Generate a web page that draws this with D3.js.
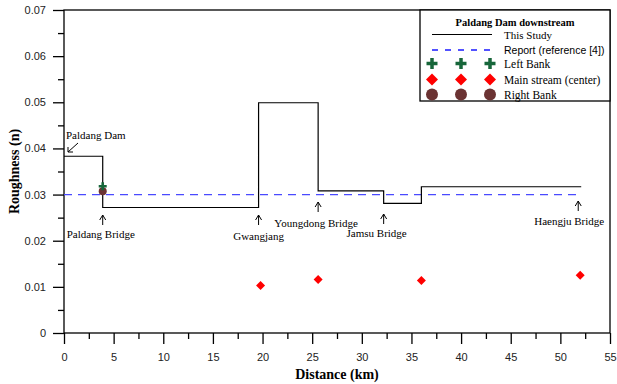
<!DOCTYPE html>
<html><head><meta charset="utf-8">
<script src="https://cdn.jsdelivr.net/npm/d3@7/dist/d3.min.js"></script>
<style>body{margin:0;background:#fff}svg{display:block}</style>
</head><body>
<svg id="c" width="617" height="384"></svg>
<script>
// ---- data ----
const stepX = [0, 3.9, 19.6, 25.6, 32.2, 36.0, 52.1];      // segment boundaries (km)
const stepN = [0.0383, 0.0272, 0.0499, 0.0308, 0.0281, 0.0317]; // This Study roughness per segment
const reportX = [0, 52.1];
const reportN = [0.030, 0.030];
const mainX = [19.8, 25.6, 36.0, 52.0];
const mainN = [0.0103, 0.0116, 0.0114, 0.0125];
const leftX = [3.9];
const leftN = [0.0318];
const rightX = [3.9];
const rightN = [0.0307];
const xTicks = [0,5,10,15,20,25,30,35,40,45,50,55];
const yTicks = [0,0.01,0.02,0.03,0.04,0.05,0.06,0.07];
const annots = [
  {name:"Paldang Bridge", x:3.9},
  {name:"Gwangjang", x:19.6},
  {name:"Youngdong Bridge", x:25.6},
  {name:"Jamsu Bridge", x:32.2},
  {name:"Haengju Bridge", x:51.8}
];

const svg = d3.select("#c");
const L=64, R=610, T=10, B=333;
const x = d3.scaleLinear().domain([0,55]).range([L,R]);
const y = d3.scaleLinear().domain([0,0.07]).range([B,T]);
const serif = "'Liberation Serif','Times New Roman',serif";
const sans = "'Liberation Sans',Arial,sans-serif";

// axes
const xa = svg.append("g").attr("transform",`translate(0,${B})`)
  .call(d3.axisBottom(x).tickValues(xTicks).tickSize(11).tickPadding(9).tickFormat(d3.format("d")));
const xm = svg.append("g").attr("transform",`translate(0,${B})`)
  .call(d3.axisBottom(x).tickValues(xTicks.slice(0,-1).map(d=>d+2.5)).tickSize(6).tickFormat(""));
const ya = svg.append("g").attr("transform",`translate(${L},0)`)
  .call(d3.axisLeft(y).tickValues(yTicks).tickSize(11).tickPadding(7).tickFormat(d=>d===0?"0":d3.format(".2f")(d)));
const ym = svg.append("g").attr("transform",`translate(${L},0)`)
  .call(d3.axisLeft(y).tickValues(yTicks.slice(0,-1).map(d=>d+0.005)).tickSize(6).tickFormat(""));
[xa,xm,ya,ym].forEach(g=>{
  g.select(".domain").remove();
  g.selectAll("line").attr("stroke","#000").attr("stroke-width",1.3);
  g.selectAll("text").attr("font-family",sans).attr("font-size",11).attr("fill","#222");
});
// frame
svg.append("rect").attr("x",L).attr("y",T).attr("width",R-L).attr("height",B-T)
  .attr("fill","none").attr("stroke","#000").attr("stroke-width",1.3);

// axis titles
svg.append("text").attr("x",(L+R)/2).attr("y",379).attr("text-anchor","middle")
  .attr("font-family",serif).attr("font-weight","bold").attr("font-size",14).text("Distance (km)");
svg.append("text").attr("transform",`translate(19,${(T+B)/2}) rotate(-90)`).attr("text-anchor","middle")
  .attr("font-family",serif).attr("font-weight","bold").attr("font-size",14).text("Roughness (n)");

// report dashed line
svg.append("path").attr("d",d3.line().x((d,i)=>x(reportX[i])).y(d=>y(d))(reportN))
  .attr("fill","none").attr("stroke","#4a4aff").attr("stroke-width",1.3).attr("stroke-dasharray","8,6");

// step line
const stepPts=[];
stepN.forEach((v,i)=>{stepPts.push([stepX[i],v]);stepPts.push([stepX[i+1],v]);});
svg.append("path").attr("d",d3.line().x(d=>x(d[0])).y(d=>y(d[1]))(stepPts))
  .attr("fill","none").attr("stroke","#000").attr("stroke-width",1.2);

// symbols
function plus(g,cx,cy,s,w){
  g.append("path").attr("d",`M${cx-s},${cy}H${cx+s}M${cx},${cy-s}V${cy+s}`)
   .attr("stroke","#17663a").attr("stroke-width",w).attr("fill","none");
}
function diamond(g,cx,cy,s){
  g.append("path").attr("d",`M${cx},${cy-s}L${cx+s},${cy}L${cx},${cy+s}L${cx-s},${cy}Z`).attr("fill","#ff0000");
}
function circ(g,cx,cy,r){
  g.append("circle").attr("cx",cx).attr("cy",cy).attr("r",r).attr("fill","#6b3333");
}
const pg = svg.append("g");
rightX.forEach((v,i)=>circ(pg,x(v),y(rightN[i]),4));
leftX.forEach((v,i)=>plus(pg,x(v),y(leftN[i]),4,2.6));
mainX.forEach((v,i)=>diamond(pg,x(v),y(mainN[i]),4.5));

// annotations
function arrowUp(g,ax,ytop,len){
  g.append("path").attr("d",`M${ax},${ytop}V${ytop+len}M${ax-3},${ytop+5}L${ax},${ytop}L${ax+3},${ytop+5}`)
   .attr("stroke","#000").attr("fill","none").attr("stroke-width",1);
}
const ag = svg.append("g");
const annY = {"Paldang Bridge":[215,238],"Gwangjang":[215,240],"Youngdong Bridge":[202,227],"Jamsu Bridge":[214,237],"Haengju Bridge":[201,225]};
const annDx = {"Paldang Bridge":-2,"Gwangjang":0,"Youngdong Bridge":-2,"Jamsu Bridge":-7,"Haengju Bridge":-9};
annots.forEach(a=>{
  const ax=x(a.x);
  arrowUp(ag,ax,annY[a.name][0],10);
  ag.append("text").attr("x",ax+annDx[a.name]).attr("y",annY[a.name][1]).attr("text-anchor","middle")
    .attr("font-family",serif).attr("font-size",11).text(a.name);
});
// Paldang Dam
ag.append("text").attr("x",66).attr("y",139).attr("font-family",serif).attr("font-size",11).text("Paldang Dam");
ag.append("path").attr("d","M78,143L68,152M68,147L68,152L73,152").attr("stroke","#000").attr("fill","none").attr("stroke-width",1);

// legend
const lg = svg.append("g");
lg.append("rect").attr("x",420).attr("y",10).attr("width",190).attr("height",91)
  .attr("fill","#fff").attr("stroke","#000").attr("stroke-width",1.3);
lg.append("text").attr("x",515).attr("y",26).attr("text-anchor","middle").attr("font-family",serif)
  .attr("font-weight","bold").attr("font-size",10.5).text("Paldang Dam downstream");
lg.append("line").attr("x1",432).attr("x2",492).attr("y1",34.5).attr("y2",34.5).attr("stroke","#000").attr("stroke-width",1.2);
lg.append("line").attr("x1",432).attr("x2",492).attr("y1",50).attr("y2",50).attr("stroke","#1a1aff").attr("stroke-width",1.3).attr("stroke-dasharray","6,7");
[432,461,490].forEach(cx=>{ plus(lg,cx,63.5,5.5,3.5); diamond(lg,cx,79.5,6); circ(lg,cx,94.5,6); });
const legT=[["This Study",38.5,serif,11],["Report (reference [4])",54,sans,10.5],["Left Bank",67.5,serif,11.5],["Main stream (center)",83.5,serif,11.5],["Right Bank",98.5,serif,11.5]];
legT.forEach(t=>lg.append("text").attr("x",504).attr("y",t[1]).attr("font-family",t[2]).attr("font-size",t[3]).text(t[0]));
</script>
</body></html>
